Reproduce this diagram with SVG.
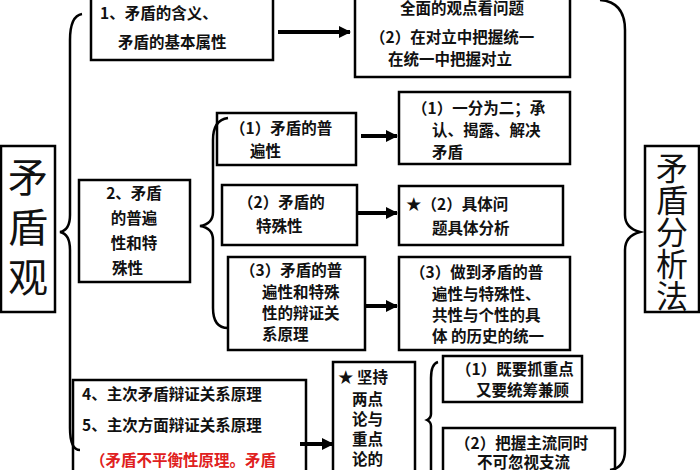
<svg xmlns="http://www.w3.org/2000/svg" width="700" height="470" viewBox="0 0 700 470">
<defs>
<marker id="ah2" markerWidth="12" markerHeight="12" refX="11" refY="6" orient="auto" markerUnits="userSpaceOnUse"><path d="M0,0 L12,6 L0,12 Z" fill="#000"/></marker></defs>
<style>
rect{fill:#fff;stroke:#000;stroke-width:2.5}
text{font-family:"Noto Sans CJK SC","Liberation Sans",sans-serif;font-size:15.5px;font-weight:bold;fill:#111}
.big{font-size:40px;font-weight:normal}
.mid{font-size:32px;font-weight:normal}
.red{fill:#e02020}
.br{fill:none;stroke:#000;stroke-width:2.5}
.ar{stroke:#000;stroke-width:4;fill:none}
</style>
<rect x="0" y="0" width="700" height="470" style="stroke:none"/>
<g id="n-left"><rect x="1" y="146" width="54" height="166"/><text class="big" x="28" y="192" text-anchor="middle">矛</text><text class="big" x="28" y="242" text-anchor="middle">盾</text><text class="big" x="28" y="292" text-anchor="middle">观</text></g>
<g id="n-right"><rect x="645" y="146" width="54" height="166"/><text class="mid" x="672" y="180" text-anchor="middle">矛</text><text class="mid" x="672" y="212" text-anchor="middle">盾</text><text class="mid" x="672" y="244" text-anchor="middle">分</text><text class="mid" x="672" y="276" text-anchor="middle">析</text><text class="mid" x="672" y="308" text-anchor="middle">法</text></g>
<g id="n1"><rect x="91" y="-3" width="182" height="63"/><text x="100" y="19">1、矛盾的含义、</text><text x="118" y="48">矛盾的基本属性</text></g>
<g id="n1a"><rect x="355" y="-3" width="215" height="80"/><text x="462" y="14" text-anchor="middle">全面的观点看问题</text><text x="370" y="43">（2）在对立中把握统一</text><text x="388" y="65">在统一中把握对立</text></g>
<g id="n2"><rect x="79" y="180" width="111" height="102"/><text x="134" y="199" text-anchor="middle">2、矛盾</text><text x="134" y="224" text-anchor="middle">的普遍</text><text x="134" y="249" text-anchor="middle">性和特</text><text x="112" y="274">殊性</text></g>
<g id="n21"><rect x="217" y="113" width="139" height="52"/><text x="230" y="134">（1）矛盾的普</text><text x="250" y="157">遍性</text></g>
<g id="n21a"><rect x="399" y="92" width="171" height="72"/><text x="412" y="114">（1）一分为二；承</text><text x="432" y="136">认、揭露、解决</text><text x="432" y="158">矛盾</text></g>
<g id="n22"><rect x="222" y="185" width="135" height="60"/><text x="238" y="208">（2）矛盾的</text><text x="256" y="232">特殊性</text></g>
<g id="n22a"><rect x="399" y="186" width="164" height="59"/><text x="406" y="210">★（2）具体问</text><text x="432" y="234">题具体分析</text></g>
<g id="n23"><rect x="228" y="257" width="137" height="93"/><text x="240" y="276">（3）矛盾的普</text><text x="262" y="298">遍性和特殊</text><text x="262" y="319">性的辩证关</text><text x="262" y="340">系原理</text></g>
<g id="n23a"><rect x="399" y="257" width="171" height="93"/><text x="410" y="278">（3）做到矛盾的普</text><text x="432" y="300">遍性与特殊性、</text><text x="432" y="321">共性与个性的具</text><text x="432" y="342">体 的历史的统一</text></g>
<g id="n45"><rect x="73" y="380" width="233" height="95"/><text x="82" y="400">4、主次矛盾辩证关系原理</text><text x="82" y="431">5、主次方面辩证关系原理</text><text class="red" x="90" y="466">（矛盾不平衡性原理。矛盾</text></g>
<g id="n45a"><rect x="333" y="362" width="82" height="115"/><text x="338" y="383">★ 坚持</text><text x="352" y="405">两点</text><text x="352" y="425">论与</text><text x="352" y="445">重点</text><text x="352" y="465">论的</text></g>
<g id="n451"><rect x="443" y="356" width="139" height="46"/><text x="456" y="375">（1）既要抓重点</text><text x="476" y="396">又要统筹兼顾</text></g>
<g id="n452"><rect x="443" y="428" width="172" height="50"/><text x="455" y="449">（2）把握主流同时</text><text x="477" y="468">不可忽视支流</text></g>
<g id="connectors">
<path class="br" d="M82,14 Q70,16 70,40 L70,215 Q70,230 60,232 Q70,234 70,250 L70,428 Q70,450 80,450"/>
<path class="br" d="M228,118 Q213,120 213,140 L213,212 Q213,224 200,226 Q213,228 213,240 L213,308 Q213,328 228,328"/>
<path class="br" d="M600,0 Q625,2 625,30 L625,215 Q625,228 640,232 Q625,236 625,250 L625,450 Q625,468 610,470"/>
<path class="br" d="M438,362 Q431,364 431,378 L431,414 Q431,418 427,420 Q431,422 431,426 L431,470"/>
<line class="ar" x1="278" y1="32" x2="350" y2="32" marker-end="url(#ah2)"/>
<line class="ar" x1="361" y1="136" x2="397" y2="136" marker-end="url(#ah2)"/>
<line class="ar" x1="357" y1="213" x2="397" y2="213" marker-end="url(#ah2)"/>
<line class="ar" x1="365" y1="306" x2="397" y2="306" marker-end="url(#ah2)"/>
<line class="ar" x1="300" y1="444" x2="333" y2="444" marker-end="url(#ah2)"/>
</g>
</svg>
